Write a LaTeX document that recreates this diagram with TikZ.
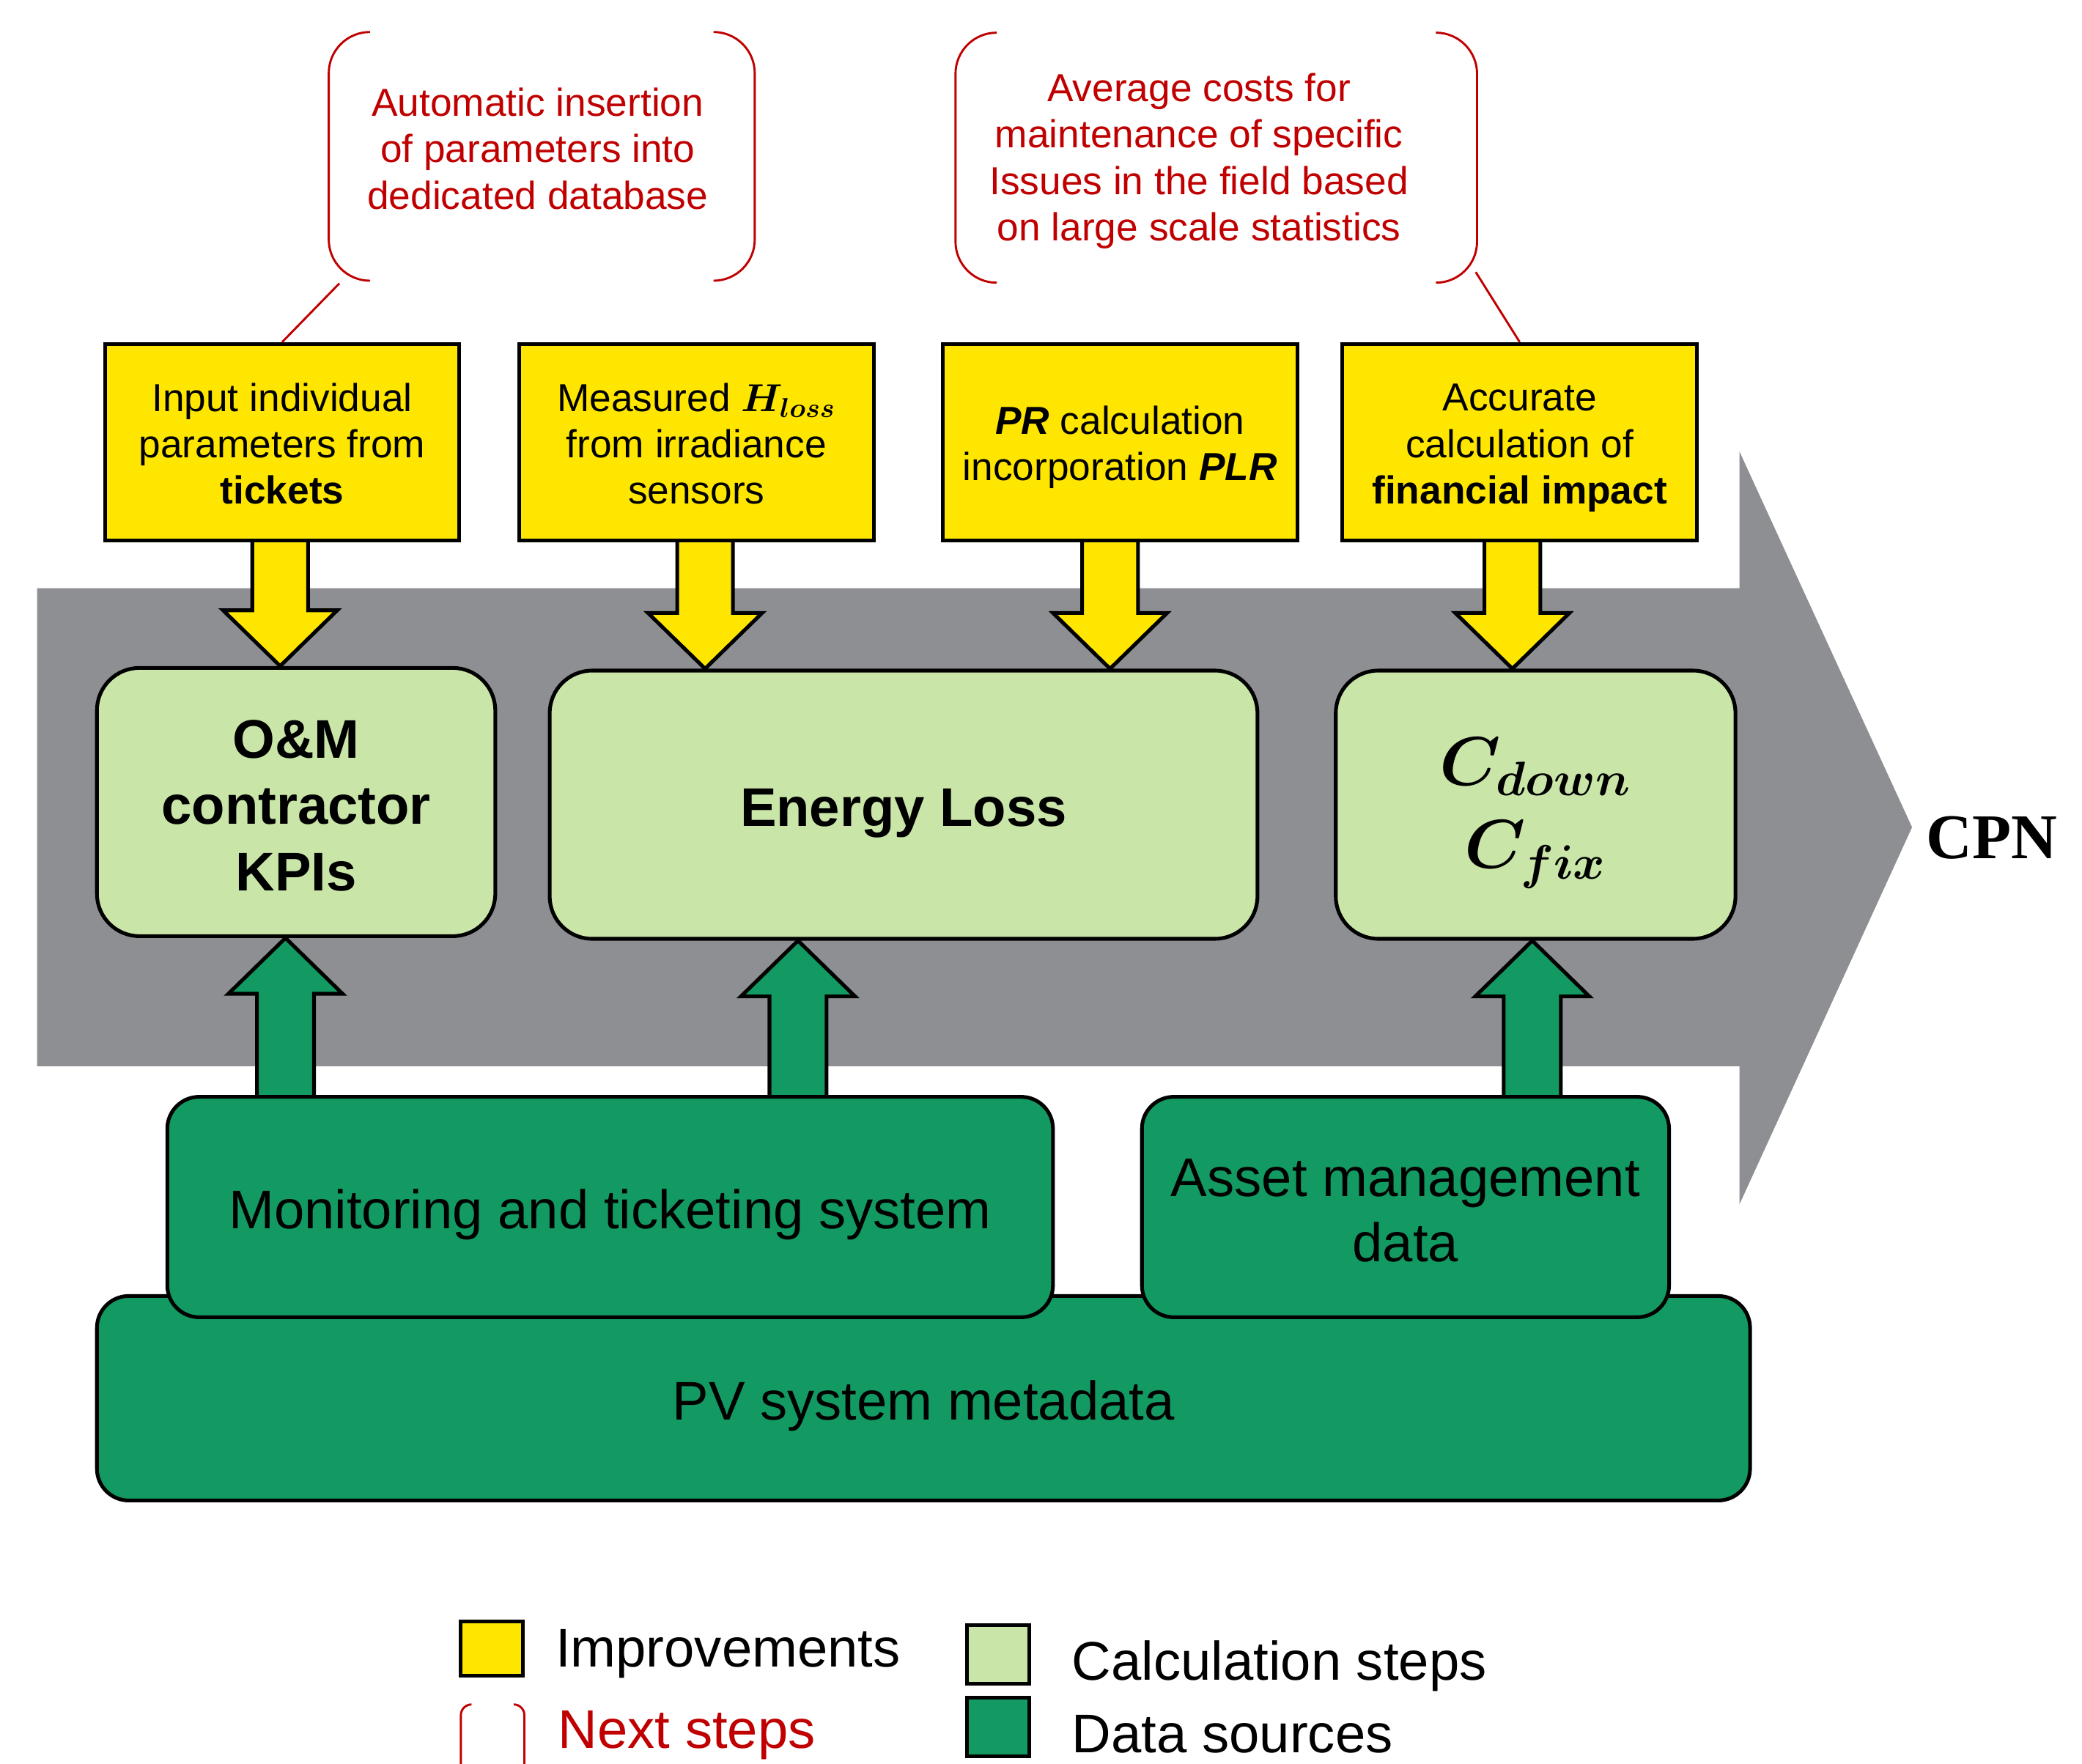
\RequirePackage{fix-cm}
\documentclass[tikz,border=0pt]{standalone}
\usepackage{amsmath}
\usepackage{bm}
\usepackage{fontspec}
\setmainfont{Liberation Sans}
\newfontfamily\cpnfont{Liberation Serif}
\usetikzlibrary{calc}
\definecolor{ygold}{RGB}{255,230,0}
\definecolor{lgreen}{RGB}{201,229,168}
\definecolor{dgreen}{RGB}{18,154,98}
\definecolor{gbar}{RGB}{142,143,147}
\definecolor{nred}{RGB}{192,0,0}
\pgfdeclarelayer{bg}
\pgfsetlayers{bg,main}
\newcommand\tightls{\lineskiplimit=-100pt\relax}
% line strut imitating the slide's line boxes
\newcommand\lstr{\rule[-0.166\baselineskip]{0pt}{\baselineskip}}
\newcommand\yellowdown[3]{\draw[yarr] let \p1=($(#1)+(#3,0)$), \p2=(#2) in
  (\x1-10.5pt,\y1+1pt) -- (\x1-10.5pt,\y2+21pt) -- (\x1-21.5pt,\y2+21pt) -- (\x1,\y2)
  -- (\x1+21.5pt,\y2+21pt) -- (\x1+10.5pt,\y2+21pt) -- (\x1+10.5pt,\y1+1pt) -- cycle;}
\newcommand\greenup[3]{\draw[garr] let \p1=($(#1)+(#3,0)$), \p2=(#2) in
  (\x1-10.75pt,\y2-2pt) -- (\x1-10.75pt,\y1-21pt) -- (\x1-21.5pt,\y1-21pt) -- (\x1,\y1)
  -- (\x1+21.5pt,\y1-21pt) -- (\x1+10.75pt,\y1-21pt) -- (\x1+10.75pt,\y2-2pt) -- cycle;}
\begin{document}
\begin{tikzpicture}[x=0.5pt,y=-0.5pt,line join=miter,
  impbox/.style={draw=black,line width=1.4pt,fill=ygold,inner sep=0pt,minimum width=133.5pt,minimum height=74pt,align=center,font=\fontsize{14.7}{17.5}\selectfont\tightls},
  calcbox/.style={draw=black,line width=1.4pt,fill=lgreen,inner sep=0pt,rounded corners=16pt,minimum height=101pt,align=center,font=\fontsize{20.5}{25}\selectfont\bfseries\tightls},
  databox/.style={draw=black,line width=1.4pt,fill=dgreen,inner sep=0pt,rounded corners=12pt,align=center,font=\fontsize{20.5}{24.5}\selectfont\tightls},
  yarr/.style={draw=black,line width=1.4pt,fill=ygold},
  garr/.style={draw=black,line width=1.4pt,fill=dgreen},
  callout/.style={draw=nred,line width=0.8pt,rounded corners=15.5pt},
  pointer/.style={draw=nred,line width=0.8pt},
  notetext/.style={text=nred,align=center,inner sep=0pt,font=\fontsize{14.7}{17.5}\selectfont\tightls},
  legtext/.style={anchor=west,inner sep=0pt,font=\fontsize{20.5}{24}\selectfont},
  legsq/.style={draw=black,line width=1.4pt,inner sep=0pt,minimum width=23.5pt},
  blank/.style={inner sep=0pt}
]
\useasboundingbox (0,0) rectangle (1568,1328);

% improvements
\node[impbox] (y1) at (212.5,333) {\lstr Input individual\\\lstr parameters from\\\lstr\textbf{tickets}};
\node[impbox] (y2) at (524.5,333) {\lstr Measured {\boldmath$H_{loss}$}\\\lstr from irradiance\\\lstr sensors};
\node[impbox] (y3) at (843.5,333) {\lstr\textbf{\textit{PR}} calculation\\\lstr incorporation \textbf{\textit{PLR}}};
\node[impbox] (y4) at (1144.5,333) {\lstr Accurate\\\lstr calculation of\\\lstr\textbf{financial impact}};

% calculation steps
\node[calcbox,minimum width=150pt] (g1) at (223,604) {\lstr O\&M\\\lstr contractor\\\lstr KPIs};
\node[calcbox,minimum width=266.5pt] (g2) at (680.5,606) {\lstr Energy Loss};
\node[calcbox,minimum width=150.5pt,font=\fontsize{26}{31.25}\selectfont\boldmath\tightls] (g3) at (1156.5,606)
  {\rule{0pt}{25.75pt}$C_{down}$\\\rule[-9pt]{0pt}{9pt}$C_{fix}$};

% data sources
\node[databox,minimum width=622.5pt,minimum height=77pt] (pv) at (695.5,1053) {\lstr PV system metadata};
\node[databox,minimum width=333.5pt,minimum height=83pt] (mon) at (459.5,909) {\lstr Monitoring and ticketing system};
\node[databox,minimum width=198.5pt,minimum height=83pt] (am) at (1058.5,909) {\lstr Asset management\\\lstr data};

% result
\node[font=\cpnfont\bfseries\fontsize{24}{28}\selectfont] (cpn) at (1500,631) {CPN};

% next-step callouts
\node[blank,minimum width=160pt,minimum height=93.25pt] (c1) at (408,117.75) {};
\draw[callout] ([xshift=15.5pt]c1.north west) -- (c1.north west) -- (c1.south west) -- ([xshift=15.5pt]c1.south west);
\draw[callout] ([xshift=-15.5pt]c1.north east) -- (c1.north east) -- (c1.south east) -- ([xshift=-15.5pt]c1.south east);
\node[notetext] (c1t) at (405,110.8) {\lstr Automatic insertion\\\lstr of parameters into\\\lstr dedicated database};
\draw[pointer] ([xshift=4pt,yshift=-1pt]c1.south west) -- (y1.north);

\node[blank,minimum width=196pt,minimum height=93.75pt] (c2) at (916,118.75) {};
\draw[callout] ([xshift=15.5pt]c2.north west) -- (c2.north west) -- (c2.south west) -- ([xshift=15.5pt]c2.south west);
\draw[callout] ([xshift=-15.5pt]c2.north east) -- (c2.north east) -- (c2.south east) -- ([xshift=-15.5pt]c2.south east);
\node[notetext] (c2t) at (903,117.3) {\lstr Average costs for\\\lstr maintenance of specific\\\lstr Issues in the field based\\\lstr on large scale statistics};
\draw[pointer] ([xshift=-0.5pt,yshift=4pt]c2.south east) -- (y4.north);

% legend
\node[legsq,fill=ygold,minimum height=20.5pt] (l1) at (370.5,1241.5) {};
\node[legtext] (l1t) at (418,1239.7) {\lstr Improvements};
\node[blank,minimum width=23.5pt,minimum height=32pt] (l2) at (371,1316) {};
\draw[callout,rounded corners=4pt] ([xshift=4pt]l2.north west) -- (l2.north west) -- (l2.south west) -- ([xshift=4pt]l2.south west);
\draw[callout,rounded corners=4pt] ([xshift=-4pt]l2.north east) -- (l2.north east) -- (l2.south east) -- ([xshift=-4pt]l2.south east);
\node[legtext,text=nred] (l2t) at (420,1300.7) {\lstr Next steps};
\node[legsq,fill=lgreen,minimum height=22pt] (l3) at (751.5,1246) {};
\node[legtext] (l3t) at (807,1249.7) {\lstr Calculation steps};
\node[legsq,fill=dgreen,minimum height=22pt] (l4) at (751.5,1300.5) {};
\node[legtext] (l4t) at (807,1303.7) {\lstr Data sources};

\begin{pgfonlayer}{bg}
\fill[gbar] (28,443) -- (1310,443) -- (1310,340) -- (1440,623) -- (1310,907) -- (1310,803) -- (28,803) -- cycle;
\yellowdown{y1.south}{g1.north}{-1.5}
\yellowdown{y2.south}{g2.north}{6.5}
\yellowdown{y3.south}{g2.north}{-7.5}
\yellowdown{y4.south}{g3.north}{-5.5}
\greenup{g1.south}{mon.north}{-8}
\greenup{g2.south}{mon.north}{-79.5}
\greenup{g3.south}{am.north}{-2.5}
\end{pgfonlayer}
\end{tikzpicture}
\end{document}
